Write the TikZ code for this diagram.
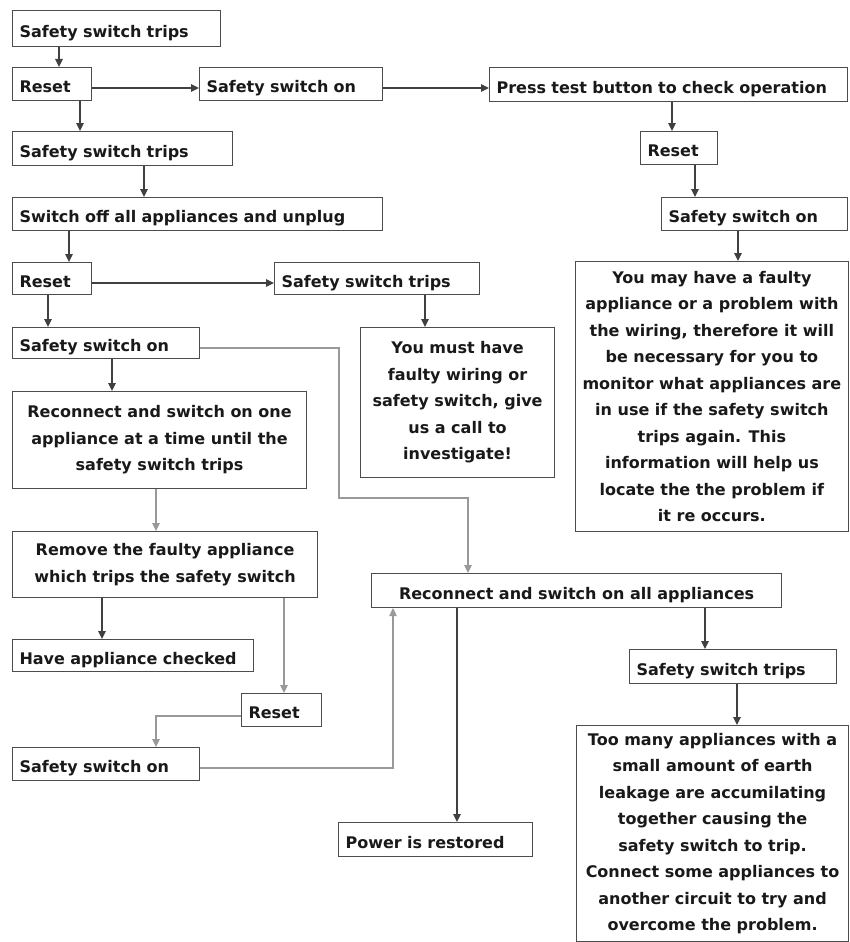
\documentclass[tikz,border=0pt]{standalone}
\usepackage{fontspec}
\setmainfont{DejaVu Sans}
\usetikzlibrary{arrows.meta,calc}
\newcommand\boxfont{\fontsize{16}{26.5}\selectfont\bfseries}
\begin{document}
\begin{tikzpicture}[x=1pt,y=-1pt,
  box/.style={draw=black!70, line width=1.1pt, anchor=north west, inner xsep=7pt, inner ysep=0pt, font=\boxfont, text=black!90},
  lbox/.style={box, align=left, text height=17pt, text depth=0pt},
  cbox/.style={box, align=center},
  arr/.style={-{Triangle[length=8pt,width=7.5pt]}, line width=1.1pt, draw=black!75},
  garr/.style={arr, draw=black!40}]
\fill[white] (0,0) rectangle (849,942);
\useasboundingbox (0,0) rectangle (849,942);
% boxes
\node[lbox, text width=194pt, minimum height=36pt] (n1) at (12,10) {Safety switch trips};
\node[lbox, text width=65pt, minimum height=33pt] (r1) at (12,67) {Reset};
\node[lbox, text width=169pt, minimum height=33pt] (on1) at (199,67) {Safety switch on};
\node[lbox, text width=344pt, minimum height=34pt, inner xsep=7pt] (pt) at (489,67) {Press test button to check operation};
\node[lbox, text width=206pt, minimum height=34pt] (t2) at (12,131) {Safety switch trips};
\node[lbox, text width=356pt, minimum height=33pt] (off) at (12,197) {Switch off all appliances and unplug};
\node[lbox, text width=63pt, minimum height=33pt] (r3) at (640,131) {Reset};
\node[lbox, text width=172pt, minimum height=33pt] (on3) at (661,197) {Safety switch on};
\node[lbox, text width=65pt, minimum height=32pt] (r2) at (12,262) {Reset};
\node[lbox, text width=191pt, minimum height=32pt] (t3) at (274,262) {Safety switch trips};
\node[cbox, minimum width=272pt, minimum height=270pt] (big) at (575,261) {You may have a faulty\\appliance or a problem with\\the wiring, therefore it will\\be necessary for you to\\monitor what appliances are\\in use if the safety switch\\trips again. This\\information will help us\\locate the the problem if\\it re occurs.};
\node[lbox, text width=173pt, minimum height=31pt] (on2) at (12,327) {Safety switch on};
\node[cbox, minimum width=194pt, minimum height=150pt] (must) at (360,327) {You must have\\faulty wiring or\\safety switch, give\\us a call to\\investigate!};
\node[cbox, minimum width=294pt, minimum height=97pt] (one) at (12,391) {Reconnect and switch on one\\appliance at a time until the\\safety switch trips};
\node[cbox, minimum width=305pt, minimum height=66pt] (rem) at (12,531) {Remove the faulty appliance\\which trips the safety switch};
\node[lbox, text width=227pt, minimum height=32pt] (chk) at (12,639) {Have appliance checked};
\node[lbox, text width=66pt, minimum height=33pt] (r4) at (241,693) {Reset};
\node[lbox, text width=173pt, minimum height=33pt] (on4) at (12,747) {Safety switch on};
\node[cbox, minimum width=410pt, minimum height=34pt, text height=17pt, text depth=0pt] (all) at (371,573) {Reconnect and switch on all appliances};
\node[lbox, text width=193pt, minimum height=34pt] (t4) at (629,649) {Safety switch trips};
\node[lbox, text width=180pt, minimum height=34pt] (pr) at (338,822) {Power is restored};
\node[cbox, minimum width=272pt, minimum height=216pt] (many) at (576,725) {Too many appliances with a\\small amount of earth\\leakage are accumilating\\together causing the\\safety switch to trip.\\Connect some appliances to\\another circuit to try and\\overcome the problem.};
% guide coordinates
\coordinate (x59) at (59,0);
\coordinate (x80) at (80,0);
\coordinate (x144) at (144,0);
\coordinate (x69) at (69,0);
\coordinate (x48) at (48,0);
\coordinate (x425) at (425,0);
\coordinate (x672) at (672,0);
\coordinate (x695) at (695,0);
\coordinate (x738) at (738,0);
\coordinate (x112) at (112,0);
\coordinate (x156) at (156,0);
\coordinate (x102) at (102,0);
\coordinate (x284) at (284,0);
\coordinate (x468) at (468,0);
\coordinate (x393) at (393,0);
\coordinate (x457) at (457,0);
\coordinate (x705) at (705,0);
\coordinate (x737) at (737,0);
\coordinate (y88) at (0,88);
\coordinate (y283) at (0,283);
\coordinate (y348) at (0,348);
\coordinate (y716) at (0,716);
\coordinate (y768) at (0,768);
\coordinate (j1) at (339,348);
\coordinate (j2) at (339,498);
\coordinate (j3) at (468,498);
\coordinate (j4) at (156,716);
\coordinate (j5) at (393,768);
% connectors
\draw[arr] (x59 |- n1.south) -- (x59 |- r1.north);
\draw[arr] (r1.east |- y88) -- (on1.west |- y88);
\draw[arr] (x80 |- r1.south) -- (x80 |- t2.north);
\draw[arr] (on1.east |- y88) -- (pt.west |- y88);
\draw[arr] (x144 |- t2.south) -- (x144 |- off.north);
\draw[arr] (x69 |- off.south) -- (x69 |- r2.north);
\draw[arr] (r2.east |- y283) -- (t3.west |- y283);
\draw[arr] (x48 |- r2.south) -- (x48 |- on2.north);
\draw[arr] (x425 |- t3.south) -- (x425 |- must.north);
\draw[arr] (x672 |- pt.south) -- (x672 |- r3.north);
\draw[arr] (x695 |- r3.south) -- (x695 |- on3.north);
\draw[arr] (x738 |- on3.south) -- (x738 |- big.north);
\draw[garr] (on2.east |- y348) -- (j1) -- (j2) -- (j3) -- (x468 |- all.north);
\draw[arr] (x112 |- on2.south) -- (x112 |- one.north);
\draw[garr] (x156 |- one.south) -- (x156 |- rem.north);
\draw[arr] (x102 |- rem.south) -- (x102 |- chk.north);
\draw[garr] (x284 |- rem.south) -- (x284 |- r4.north);
\draw[garr] (r4.west |- y716) -- (j4) -- (x156 |- on4.north);
\draw[garr] (on4.east |- y768) -- (j5) -- (x393 |- all.south);
\draw[arr] (x457 |- all.south) -- (x457 |- pr.north);
\draw[arr] (x705 |- all.south) -- (x705 |- t4.north);
\draw[arr] (x737 |- t4.south) -- (x737 |- many.north);
\end{tikzpicture}
\end{document}
